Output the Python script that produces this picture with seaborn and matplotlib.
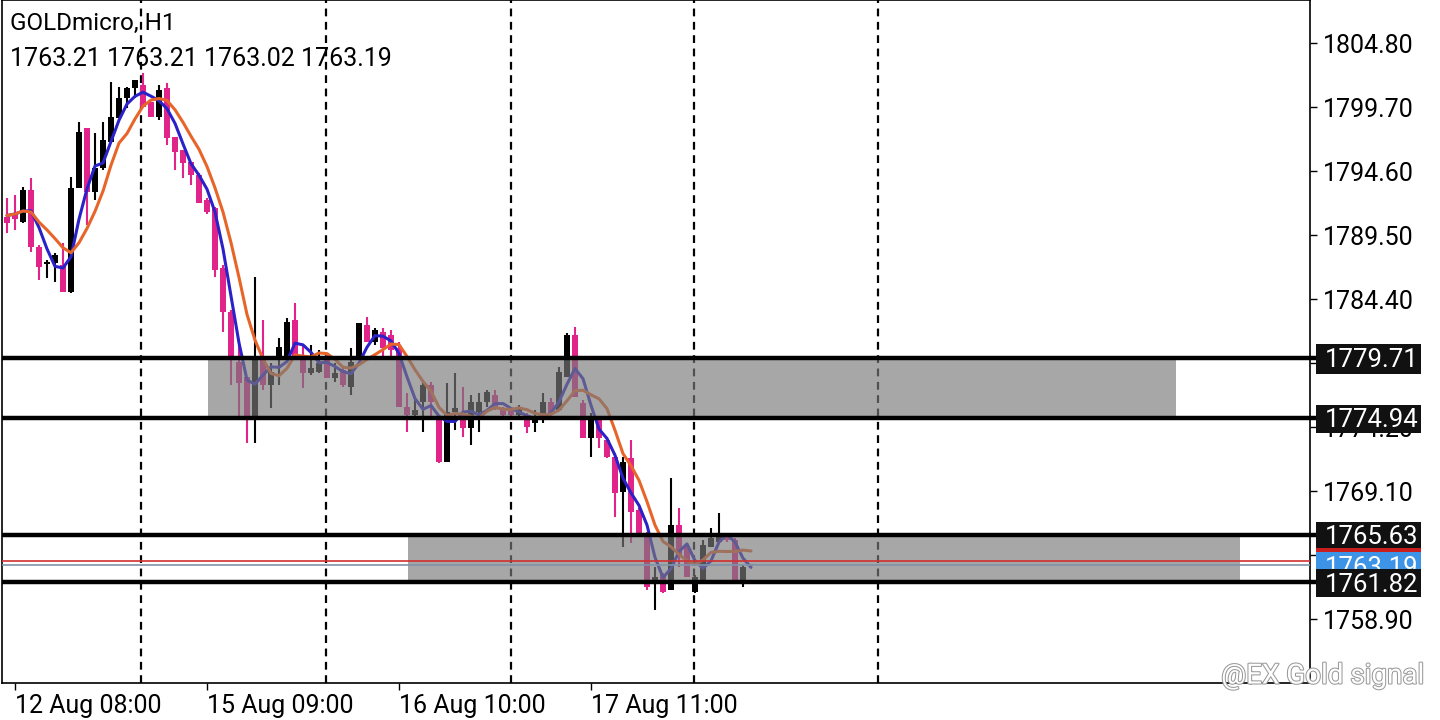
import numpy as np
import pandas as pd
import matplotlib
matplotlib.use("Agg")
import matplotlib.pyplot as plt
import matplotlib.patheffects as pe
from matplotlib.patches import Rectangle
import seaborn as sns

sns.set_theme(style="white")
plt.rcParams['font.family'] = ['Roboto', 'DejaVu Sans']

# H1 candles
opens = [
    1790.94, 1791.10, 1790.54, 1793.09, 1788.54, 1787.19, 1787.27, 1787.11, 1784.96, 1793.25,
    1798.03, 1792.93, 1794.84, 1796.91, 1798.83, 1800.42, 1801.22, 1801.45, 1800.10, 1798.91,
    1801.22, 1797.31, 1796.27, 1795.32, 1794.28, 1792.29, 1791.65, 1786.87, 1783.36, 1779.38,
    1778.18, 1774.99, 1779.54, 1777.55, 1779.54, 1779.78, 1782.73, 1779.70, 1778.50, 1778.58,
    1779.78, 1778.10, 1778.74, 1777.39, 1779.70, 1782.33, 1780.97, 1781.77, 1781.53, 1780.49,
    1775.79, 1775.16, 1776.19, 1777.55, 1774.76, 1771.41, 1775.39, 1774.99, 1774.12, 1775.39,
    1776.19, 1776.75, 1775.71, 1775.55, 1775.16, 1775.16, 1774.52, 1774.76, 1776.19, 1775.55,
    1778.18, 1781.53, 1776.11, 1773.32, 1774.76, 1773.16, 1771.81, 1769.02, 1771.73, 1767.58,
    1765.59, 1761.77, 1762.40, 1761.21, 1766.39, 1764.63, 1761.05, 1762.00, 1764.63, 1765.03,
    1765.43, 1765.19, 1761.77, 1763.21]
highs = [
    1792.45, 1792.69, 1793.33, 1794.04, 1788.70, 1787.51, 1788.07, 1788.86, 1794.12, 1798.51,
    1798.03, 1797.63, 1798.51, 1801.69, 1801.30, 1801.30, 1801.85, 1802.41, 1800.10, 1801.45,
    1801.61, 1797.31, 1796.27, 1795.32, 1794.44, 1792.45, 1791.73, 1787.11, 1783.52, 1780.73,
    1778.18, 1786.15, 1782.73, 1779.30, 1781.29, 1782.89, 1784.08, 1780.73, 1780.73, 1780.34,
    1780.10, 1779.30, 1778.98, 1780.49, 1782.49, 1782.96, 1782.09, 1782.09, 1781.93, 1780.97,
    1776.91, 1776.59, 1777.79, 1777.79, 1774.92, 1777.71, 1778.50, 1777.39, 1776.75, 1776.91,
    1777.15, 1777.15, 1775.79, 1775.63, 1775.95, 1775.31, 1775.55, 1776.91, 1776.51, 1778.98,
    1781.69, 1782.17, 1776.35, 1775.31, 1774.92, 1773.40, 1772.13, 1771.81, 1773.16, 1767.74,
    1765.83, 1763.04, 1762.56, 1770.13, 1767.74, 1764.95, 1762.40, 1765.19, 1766.15, 1767.34,
    1765.59, 1765.35, 1763.20, 1763.21]
lows = [
    1789.66, 1789.90, 1790.46, 1788.15, 1785.91, 1786.07, 1785.76, 1784.96, 1784.88, 1793.25,
    1790.30, 1792.29, 1794.68, 1796.91, 1798.83, 1799.62, 1800.42, 1799.70, 1798.91, 1798.67,
    1796.67, 1794.68, 1794.04, 1793.49, 1792.05, 1791.17, 1786.15, 1781.77, 1777.55, 1774.76,
    1772.92, 1772.92, 1777.15, 1775.71, 1777.55, 1779.78, 1779.70, 1777.31, 1778.34, 1778.50,
    1778.10, 1777.79, 1777.39, 1776.75, 1779.70, 1780.97, 1780.73, 1779.78, 1779.78, 1775.79,
    1773.80, 1774.76, 1773.80, 1774.76, 1771.33, 1771.41, 1773.96, 1773.40, 1772.76, 1773.80,
    1775.79, 1775.55, 1774.99, 1774.99, 1774.99, 1773.72, 1773.80, 1774.52, 1774.76, 1775.55,
    1778.18, 1776.59, 1773.32, 1771.81, 1772.52, 1771.73, 1767.02, 1764.63, 1764.95, 1765.43,
    1761.21, 1759.61, 1760.97, 1761.21, 1763.04, 1762.24, 1760.97, 1761.85, 1764.63, 1765.03,
    1765.03, 1761.85, 1761.45, 1763.02]
closes = [
    1790.46, 1790.78, 1793.09, 1788.54, 1786.95, 1787.35, 1787.91, 1784.96, 1793.25, 1797.71,
    1792.93, 1794.84, 1797.07, 1798.91, 1800.42, 1801.22, 1801.85, 1799.70, 1798.91, 1801.06,
    1797.23, 1796.12, 1795.24, 1794.28, 1792.05, 1791.33, 1786.71, 1783.36, 1779.54, 1777.71,
    1774.99, 1779.70, 1777.55, 1778.58, 1780.57, 1782.57, 1779.78, 1778.50, 1778.90, 1779.30,
    1778.10, 1778.50, 1777.55, 1779.38, 1782.49, 1780.97, 1781.93, 1780.50, 1780.34, 1775.79,
    1775.16, 1775.55, 1777.55, 1776.19, 1771.41, 1775.39, 1775.71, 1774.12, 1776.19, 1776.19,
    1776.99, 1775.79, 1775.16, 1775.16, 1775.71, 1774.20, 1774.99, 1776.19, 1775.39, 1778.58,
    1781.53, 1776.59, 1773.32, 1774.99, 1773.32, 1771.81, 1768.94, 1771.41, 1767.42, 1765.75,
    1761.45, 1762.24, 1761.05, 1766.39, 1763.84, 1762.24, 1762.24, 1764.79, 1765.35, 1765.75,
    1765.19, 1762.00, 1763.04, 1763.19]

time_ticks = [1, 25, 49, 73]
time_labels = ["12 Aug 08:00", "15 Aug 09:00", "16 Aug 10:00", "17 Aug 11:00"]
day_separators = [16.75, 39.875, 63.0, 85.875, 108.875]
price_ticks = [1804.80, 1799.70, 1794.60, 1789.50, 1784.40, 1779.30, 1774.20, 1769.10, 1764.00, 1758.90]
levels = [1779.71, 1774.94, 1765.63, 1761.82]
zones = [(25.125, 146.125, 1774.94, 1779.71), (50.125, 154.125, 1761.82, 1765.63)]
bid = 1763.19
ask = 1763.52
header = "GOLDmicro, H1"
ohlc_line = "1763.21 1763.21 1763.02 1763.19"

df = pd.DataFrame({"bar": np.arange(len(opens)), "open": opens, "high": highs,
                   "low": lows, "close": closes})
df["median"] = (df["high"] + df["low"]) / 2
df["ma_fast"] = df["median"].rolling(3, min_periods=1).mean()
df["ma_slow"] = df["median"].rolling(6, min_periods=1).mean()

BULL = "#000000"
BEAR = "#e0248a"

fig = plt.figure(figsize=(14.4, 7.2), dpi=100)
ax = fig.add_axes([2 / 1440, 37 / 720, 1308 / 1440, 683 / 720])
ax.set_facecolor("white")

up = df["close"] >= df["open"]
colors = np.where(up, BULL, BEAR)
ax.vlines(df["bar"], df["low"], df["high"], colors=colors, lw=1.5, zorder=2)
body = (df["close"] - df["open"]).to_numpy()
body = np.where(np.abs(body) < 0.08, 0.08, body)
ax.bar(df["bar"], body, bottom=df["open"], width=0.72, color=colors, lw=0, zorder=2)

sns.lineplot(data=df, x="bar", y="ma_fast", color="#2a22c8", lw=2.2, ax=ax, zorder=3)
sns.lineplot(data=df, x="bar", y="ma_slow", color="#e8652a", lw=2.2, ax=ax, zorder=3)

for x in day_separators:
    ax.axvline(x, color="black", lw=1.6, ls=(0, (3.5, 2.5)), zorder=1)

for x0, x1, y0, y1 in zones:
    ax.add_patch(Rectangle((x0, y0), x1 - x0, y1 - y0, facecolor="#7a7a7a",
                           alpha=0.66, lw=0, zorder=4))

ax.axhline(ask, color="#d03030", lw=1.2, zorder=5)
ax.axhline(bid, color="#7f93aa", lw=1.2, zorder=5)
for lvl in levels:
    ax.axhline(lvl, color="black", lw=3.2, zorder=6)
    ax.plot([1, 1.007], [lvl, lvl], transform=ax.get_yaxis_transform(),
            color="black", lw=3.2, clip_on=False, zorder=6)

ax.set_xlim(-0.625, 162.875)
ax.set_ylim(1753.80, 1808.23)

ax.yaxis.tick_right()
ax.set_yticks(price_ticks)
ax.set_yticklabels([f"{p:.2f}" for p in price_ticks])
ax.set_xticks(time_ticks)
ax.set_xticklabels(time_labels)
for lab in ax.get_xticklabels():
    lab.set_ha("left")
ax.tick_params(axis="y", right=True, direction="out", length=5, width=1,
               labelsize=18, pad=4, colors="black")
ax.tick_params(axis="x", bottom=True, direction="out", length=5, width=1,
               labelsize=18, pad=3, colors="black")
ax.set_xlabel("")
ax.set_ylabel("")
for s in ax.spines.values():
    s.set_visible(True)
    s.set_color("black")
    s.set_linewidth(1.2)

# price labels on the right scale: box in axes-x / data-y coordinates
px = (1808.23 - 1753.80) / 683
box_w = 105 / 1308

def price_box(price, fc, z, h=30):
    ax.add_patch(Rectangle((1.0046, price - h * px / 2 - 1 * px), box_w, h * px,
                           transform=ax.get_yaxis_transform(), facecolor=fc,
                           lw=0, clip_on=False, zorder=z))
    ax.text(1.0112, price, f"{price:.2f}", transform=ax.get_yaxis_transform(),
            ha="left", va="center_baseline", fontsize=18.5, color="white",
            zorder=z + 0.5, clip_on=False)

price_box(levels[0], "#111111", 20)
price_box(levels[1], "#111111", 20, h=28)
price_box(levels[2], "#111111", 20, h=28)
price_box(ask, "#c81e1e", 21, h=28)
price_box(bid, "#3d94e6", 22, h=28)
price_box(levels[3], "#111111", 23, h=28)

fig.text(10 / 1440, 1 - 23 / 720, header, fontsize=17.5, va="center", ha="left", color="black")
fig.text(10 / 1440, 1 - 59 / 720, ohlc_line, fontsize=18, va="center", ha="left", color="black")

fig.text(1424 / 1440, 1 - 676 / 720, "@EX Gold signal", fontsize=20, ha="right",
         va="center", color="white",
         path_effects=[pe.withStroke(linewidth=1.5, foreground="#9a9a9a")])

fig.savefig("out.png", dpi=100)
